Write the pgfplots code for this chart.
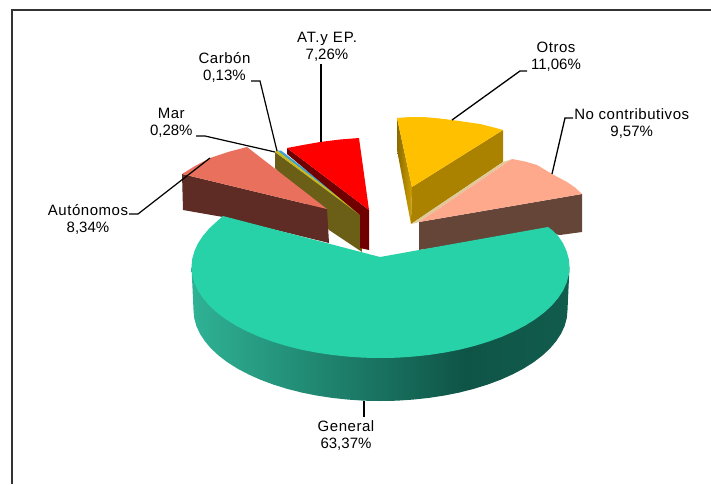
\documentclass[border=0pt]{standalone}
\usepackage{pgfplots}
\pgfplotsset{compat=1.18}
\usepackage{fontspec}
\setmainfont{Liberation Sans}
\newfontfamily\wordfont[LetterSpace=3.5]{Liberation Sans}
\newfontfamily\widefont[LetterSpace=6]{Liberation Sans}
\definecolor{maintop}{HTML}{28D2A8}
\definecolor{sa}{HTML}{2FB295}
\definecolor{sb}{HTML}{0F5547}
\definecolor{sc}{HTML}{115C4D}
\definecolor{autotop}{HTML}{E8705C}
\definecolor{autoside}{HTML}{5E2B25}
\definecolor{olive}{HTML}{6B5E17}
\definecolor{sliverY}{HTML}{C8B820}
\definecolor{sliverB}{HTML}{3AA0D0}
\definecolor{redside}{HTML}{700000}
\definecolor{gold}{HTML}{FFC000}
\definecolor{goldside}{HTML}{AA8200}
\definecolor{goa}{HTML}{8A6A00}
\definecolor{gob}{HTML}{D0A000}
\definecolor{salm}{HTML}{FFA98C}
\definecolor{salmside}{HTML}{664539}
\definecolor{beige}{HTML}{E0C898}
\pgfdeclarehorizontalshading{mainside}{100bp}{color(0bp)=(sa); color(25bp)=(sa); color(61bp)=(sb); color(75bp)=(sc); color(100bp)=(sc)}
\pgfdeclarehorizontalshading{goldleft}{100bp}{color(0bp)=(goa); color(25bp)=(goa); color(75bp)=(gob); color(100bp)=(gob)}
\newcommand{\lab}[3]{\node[anchor=base,inner sep=0pt,font=\fontsize{15}{17}\selectfont] at (axis cs:#1,#2) {#3};}
\begin{document}
\begin{tikzpicture}[x=1pt,y=1pt]
\useasboundingbox (0,0) rectangle (711,484);
\begin{axis}[at={(0,0)},anchor=south west,scale only axis,width=711pt,height=484pt,
 xmin=0,xmax=711,ymin=0,ymax=484,y dir=reverse,hide axis,no markers]
% frame
\addplot[draw=black!80,line width=2pt] coordinates {(12,484) (12,10.5) (711,10.5)};
% Carbon / Mar
\addplot[fill=olive,draw=none] coordinates {(275,152) (360,214) (362,252) (329,230) (275,168)} --cycle;
\addplot[fill=sliverB,draw=none] coordinates {(277,150.5) (281,150.5) (361,213) (360,214)} --cycle;
\addplot[fill=sliverY,draw=none] coordinates {(275,152) (277,150.5) (360,213.5) (360,215)} --cycle;
% Autonomos
\addplot[fill=autoside,draw=none] coordinates {(182,174) (327,209) (329,243) (223,217) (183,210)} --cycle;
\addplot[fill=autotop,draw=none] coordinates {(182,174) (195,166) (210,158) (228,152) (247,147) (327,209)} --cycle;
% AT y EP
\addplot[fill=redside,draw=none] coordinates {(287,148) (369,210) (369,250) (360,248) (360,215) (287,154)} --cycle;
\addplot[fill=red,draw=none] coordinates {(287,148) (303,145) (320,142) (340,139.5) (359,138) (369,210)} --cycle;
% Otros
\addplot[shading=goldleft,draw=none] coordinates {(397,118) (412,187) (411,224) (397,150)} --cycle;
\addplot[fill=goldside,draw=none] coordinates {(412,187) (503,130) (503,162) (411,224)} --cycle;
\addplot[fill=gold,draw=none] coordinates {(397,118) (410,117) (423,117) (438,118.3) (452,120) (466,122) (480,124) (492,127) (503,130) (412,187)} --cycle;
\addplot[fill=beige,draw=none] coordinates {(411,224) (503,162) (511,159.5) (419,222)} --cycle;
% No contributivos
\addplot[fill=salmside,draw=none] coordinates {(419,222) (582,194) (582,232) (560,235) (540,232) (419,250)} --cycle;
\addplot[fill=salm,draw=none] coordinates {(419,222) (512,159) (525,161.5) (537,165) (552,174) (567,182) (575,187.5) (582,194)} --cycle;
% General side
\addplot[shading=mainside,draw=none] coordinates {(191.5,267) (193.5,310) (194.2,317.9) (196.3,325.8) (199.9,333.6) (204.8,341.1) (211,348.5) (218.6,355.5) (227.3,362.2) (237.3,368.5) (248.3,374.3) (260.3,379.7) (273.2,384.5) (287,388.8) (301.5,392.5) (316.5,395.5) (332.1,397.9) (348,399.6) (364.2,400.7) (380.5,401) (396.8,400.7) (413,399.6) (428.9,397.9) (444.5,395.5) (459.5,392.5) (474,388.8) (487.8,384.5) (500.7,379.7) (512.7,374.3) (523.7,368.5) (533.7,362.2) (542.4,355.5) (550,348.5) (556.2,341.1) (561.1,333.6) (564.7,325.8) (566.8,317.9) (567.5,310) (569.5,267)} --cycle;
% General top
\addplot[fill=maintop,draw=none] coordinates {(380,257) (548,227) (552,230) (558.1,235.9) (563.1,243.4) (566.6,251.2) (568.8,259.1) (569.5,267) (568.8,274.9) (566.6,282.8) (563.1,290.6) (558.1,298.1) (551.8,305.5) (544.2,312.5) (535.3,319.2) (525.3,325.5) (514.1,331.3) (502,336.7) (488.9,341.5) (475,345.8) (460.4,349.5) (445.1,352.5) (429.4,354.9) (413.3,356.6) (397,357.7) (380.5,358) (364,357.7) (347.7,356.6) (331.6,354.9) (315.9,352.5) (300.6,349.5) (286,345.8) (272.1,341.5) (259,336.7) (246.9,331.3) (235.7,325.5) (225.7,319.2) (216.8,312.5) (209.2,305.5) (202.9,298.1) (197.9,290.6) (194.4,282.8) (192.2,274.9) (191.5,267) (192.2,259.1) (194.4,251.2) (197.9,243.4) (202.9,235.9) (209.2,228.5) (216.8,221.5) (223,216)} --cycle;
% leaders
\addplot[black,line width=1.3pt] coordinates {(364,401) (364,417)};
\addplot[black,line width=1.3pt] coordinates {(452,120) (520,71) (527,71)};
\addplot[black,line width=1.3pt] coordinates {(552,174) (565,118) (573,118)};
\addplot[black,line width=1.5pt] coordinates {(321,64) (321,142)};
\addplot[black,line width=1.2pt] coordinates {(251,81) (260,81) (277,151)};
\addplot[black,line width=1.2pt] coordinates {(196,136) (205,136) (275,152)};
\addplot[black,line width=1.2pt] coordinates {(129,214) (138,214) (210,158)};
% labels
\lab{346}{431}{\wordfont General}
\lab{346}{448}{63,37\%}
\lab{556}{52.7}{\wordfont Otros}
\lab{556}{70}{11,06\%}
\lab{631.7}{119}{\wordfont No contributivos}
\lab{631.7}{136.7}{9,57\%}
\lab{327}{42.7}{\widefont AT.y EP.}
\lab{327}{60}{7,26\%}
\lab{224.5}{64}{\wordfont Carbón}
\lab{224.5}{81}{0,13\%}
\lab{171.3}{118}{\wordfont Mar}
\lab{171.3}{135.6}{0,28\%}
\lab{88}{215}{\wordfont Autónomos}
\lab{88}{232}{8,34\%}
\end{axis}
\end{tikzpicture}
\end{document}
